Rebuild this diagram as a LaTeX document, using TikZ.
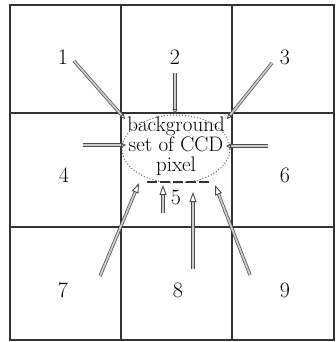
\documentclass[tikz,border=0pt]{standalone}
\usetikzlibrary{arrows.meta}
\begin{document}
\begin{tikzpicture}[x=1pt,y=-1pt,
  grid/.style={draw=black!80, line width=2.6pt},
  num/.style={font=\fontsize{22}{22}\selectfont, inner sep=0pt},
  hollow/.style={draw=black!70, line width=0.7pt, double=black!20, double distance=1.8pt,
    -{Triangle[open,length=10pt,width=7pt,line width=0.9pt]}},
  slim/.style={draw=black!70, line width=0.7pt, double=black!20, double distance=1.8pt,
    -{Triangle[open,length=5pt,width=5pt,line width=0.9pt]}}]
\useasboundingbox (0,0) rectangle (336,342);
% grid
\draw[grid] (10,5) rectangle (334,340);
\draw[grid] (121,5) -- (121,340);
\draw[grid] (232,5) -- (232,340);
\draw[grid] (10,113) -- (334,113);
\draw[grid] (10,227) -- (334,227);
% numbers
\node[num] (n1) at (63,57) {1};
\node[num] (n2) at (175,57) {2};
\node[num] (n3) at (285,57) {3};
\node[num] (n4) at (64,175) {4};
\node[num] (n5) at (176,197) {5};
\node[num] (n6) at (285,175) {6};
\node[num] (n7) at (63,290) {7};
\node[num] (n8) at (178,290) {8};
\node[num] (n9) at (285,290) {9};
% ellipse and label
\draw[black!60, dotted, line width=1pt] (176,149) ellipse [x radius=54, y radius=34];
\node[align=center, font=\fontsize{21}{20}\selectfont, inner sep=0pt] (bg) at (176,146)
  {background\\set of CCD\\pixel};
\coordinate (d1) at (147,182);
\coordinate (d2) at (212,182);
\draw[black!80, line width=2.6pt, dash pattern=on 10pt off 3pt] (d1) -- (d2);
% arrow ends
\coordinate (t1) at (74,61);   \coordinate (h1) at (125,119);
\coordinate (t2) at (175,73);  \coordinate (h2) at (175,114);
\coordinate (t3) at (272,63);  \coordinate (h3) at (227,119);
\coordinate (t4) at (83,145);  \coordinate (h4) at (126,145);
\coordinate (t6) at (268,146); \coordinate (h6) at (226,146);
\coordinate (t5) at (163,213); \coordinate (h5) at (163,185);
\coordinate (t7) at (100,276); \coordinate (h7) at (139,183);
\coordinate (t8) at (193,269); \coordinate (h8) at (193,192);
\coordinate (t9) at (250,275); \coordinate (h9) at (215,185);
\draw[slim] (t1) -- (h1);
\draw[slim] (t2) -- (h2);
\draw[slim] (t3) -- (h3);
\draw[slim] (t4) -- (h4);
\draw[slim] (t6) -- (h6);
\draw[hollow] (t5) -- (h5);
\draw[hollow] (t7) -- (h7);
\draw[hollow] (t8) -- (h8);
\draw[hollow] (t9) -- (h9);
\end{tikzpicture}
\end{document}
